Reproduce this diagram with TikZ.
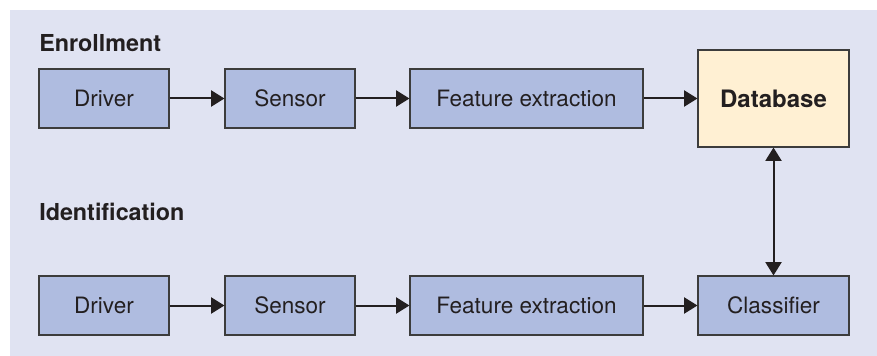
\documentclass[tikz,border=0pt]{standalone}
\usepackage{fontspec}
\setmainfont{TeX Gyre Heros}
\usetikzlibrary{arrows.meta}
\definecolor{panel}{HTML}{E0E3F2}
\definecolor{stepfill}{HTML}{AFBCE0}
\definecolor{dbfill}{HTML}{FFF0D3}
\definecolor{edge}{HTML}{3C3C3C}
\definecolor{ink}{HTML}{231F20}
\tikzset{
  blk/.style={draw=edge, line width=0.8pt, fill=stepfill, inner sep=0pt,
    font=\fontsize{16.9}{19}\selectfont, text=ink},
  dbblk/.style={blk, fill=dbfill, font=\fontsize{18}{20}\selectfont\bfseries},
  heading/.style={anchor=west, inner sep=0pt, font=\fontsize{17.5}{20}\selectfont\bfseries, text=ink},
  tip/.style={Triangle[length=10pt,width=12pt]},
  flow/.style={line width=1.5pt, draw=ink, -{Triangle[length=10pt,width=12pt]}},
  twoway/.style={line width=1.5pt, draw=ink, {Triangle[length=10pt,width=12pt]}-{Triangle[length=10pt,width=12pt]}}
}
\begin{document}
\begin{tikzpicture}[x=0.75pt, y=-0.75pt]
  \useasboundingbox (0,0) rectangle (877,356);
  \fill[white] (0,0) rectangle (877,356);
  \fill[panel] (10,10) rectangle (877,356);

  % Enrollment row
  \node[heading] (enr) at (39,43) {Enrollment};
  \node[blk, minimum width=130*0.75pt, minimum height=59*0.75pt] (d1) at (104,98.5) {Driver};
  \node[blk, minimum width=130*0.75pt, minimum height=59*0.75pt] (s1) at (290,98.5) {Sensor};
  \node[blk, minimum width=233*0.75pt, minimum height=59*0.75pt] (f1) at (526.5,98.5) {Feature extraction};
  \node[dbblk, minimum width=151*0.75pt, minimum height=97*0.75pt] (db) at (773.5,98.5) {Database};

  % Identification row
  \node[heading] (idf) at (39,212) {Identification};
  \node[blk, minimum width=130*0.75pt, minimum height=59*0.75pt] (d2) at (104,305.5) {Driver};
  \node[blk, minimum width=130*0.75pt, minimum height=59*0.75pt] (s2) at (290,305.5) {Sensor};
  \node[blk, minimum width=233*0.75pt, minimum height=59*0.75pt] (f2) at (526.5,305.5) {Feature extraction};
  \node[blk, minimum width=151*0.75pt, minimum height=59*0.75pt] (cl) at (773.5,305.5) {Classifier};

  % Connectors
  \draw[flow] (d1) -- (s1);
  \draw[flow] (s1) -- (f1);
  \draw[flow] (f1) -- (db);
  \draw[flow] (d2) -- (s2);
  \draw[flow] (s2) -- (f2);
  \draw[flow] (f2) -- (cl);
  \draw[twoway] (db) -- (cl);
\end{tikzpicture}
\end{document}
